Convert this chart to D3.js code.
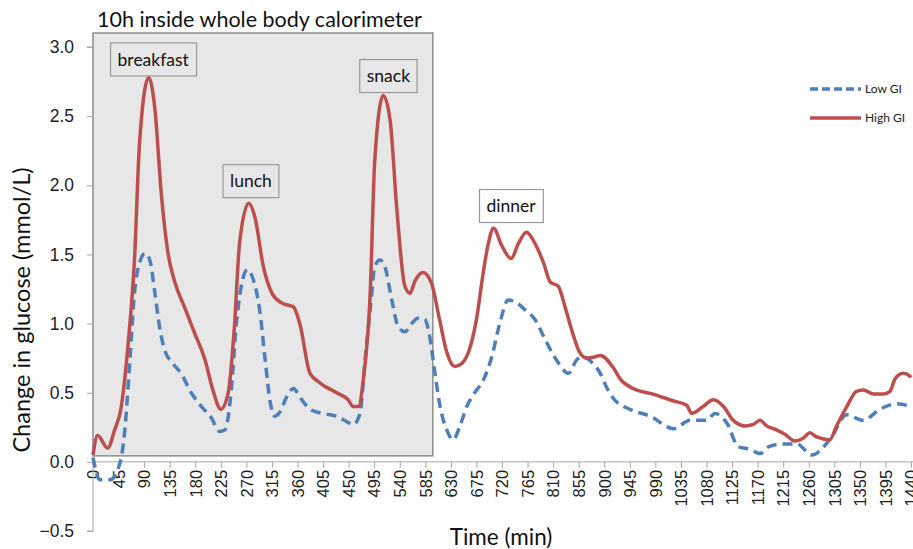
<!DOCTYPE html>
<html>
<head>
<meta charset="utf-8">
<script src="https://cdn.jsdelivr.net/npm/d3@7"></script>
<style>
  body { margin: 0; background: #fff; }
  svg { font-family: Lato, "Open Sans", sans-serif; }
  .axis path, .axis line { stroke: #a6a6a6; }
  .axis text { fill: #222; }
</style>
</head>
<body>
<div id="chart"></div>
<script>
// glucose change curves, [minute, mmol/L]
var highGI = [
  [0, 0.05], [8, 0.19], [26, 0.10], [38, 0.23], [49, 0.38], [62, 0.86], [73, 1.46],
  [82, 2.31], [98, 2.78], [109, 2.55], [120, 1.95], [132, 1.51], [144, 1.30],
  [161, 1.12], [179, 0.93], [197, 0.74], [211, 0.52], [225, 0.38], [238, 0.50],
  [249, 0.98], [258, 1.58], [274, 1.87], [285, 1.77], [300, 1.41], [315, 1.22],
  [332, 1.15], [353, 1.12], [364, 1.00], [382, 0.64], [400, 0.57], [429, 0.50],
  [449, 0.45], [458, 0.40], [467, 0.40], [476, 0.60], [488, 1.22], [496, 2.18],
  [511, 2.65], [523, 2.47], [535, 1.82], [549, 1.27], [558, 1.22], [567, 1.31],
  [581, 1.37], [596, 1.29], [610, 1.03], [623, 0.79], [637, 0.69], [649, 0.71],
  [664, 0.83], [675, 1.03], [687, 1.37], [696, 1.58], [705, 1.69], [720, 1.56],
  [736, 1.47], [749, 1.58], [763, 1.66], [778, 1.58], [793, 1.44], [805, 1.30],
  [819, 1.27], [831, 1.12], [843, 0.95], [857, 0.79], [869, 0.75], [884, 0.76],
  [893, 0.77], [916, 0.68], [928, 0.60], [951, 0.53], [986, 0.49], [1022, 0.44],
  [1045, 0.41], [1054, 0.35], [1074, 0.40], [1092, 0.45], [1110, 0.40],
  [1127, 0.30], [1148, 0.26], [1162, 0.27], [1174, 0.30], [1186, 0.26],
  [1204, 0.23], [1218, 0.20], [1236, 0.15], [1250, 0.17], [1262, 0.21],
  [1274, 0.18], [1297, 0.16], [1309, 0.26], [1327, 0.40], [1344, 0.51],
  [1356, 0.52], [1374, 0.49], [1391, 0.49], [1403, 0.51], [1412, 0.60],
  [1426, 0.64], [1438, 0.62], [1440, 0.61]
];
var lowGI = [
  [0, 0.03], [12, -0.13], [30, -0.13], [48, 0.00], [56, 0.23], [65, 0.74],
  [73, 1.22], [82, 1.44], [92, 1.51], [100, 1.46], [109, 1.22], [117, 0.98],
  [126, 0.81], [141, 0.71], [155, 0.64], [173, 0.50], [191, 0.40], [208, 0.32],
  [223, 0.22], [232, 0.23], [243, 0.50], [252, 0.98], [261, 1.27], [272, 1.39],
  [282, 1.32], [294, 1.08], [303, 0.74], [312, 0.43], [320, 0.33], [329, 0.36],
  [341, 0.47], [353, 0.53], [364, 0.47], [382, 0.38], [405, 0.35], [429, 0.33],
  [447, 0.29], [458, 0.27], [470, 0.35], [479, 0.74], [488, 1.10], [496, 1.41],
  [505, 1.46], [514, 1.41], [526, 1.17], [537, 0.98], [549, 0.94], [561, 1.00],
  [573, 1.04], [584, 1.03], [593, 0.90], [602, 0.64], [611, 0.40], [623, 0.23],
  [634, 0.16], [646, 0.26], [658, 0.40], [672, 0.50], [687, 0.59], [702, 0.76],
  [716, 1.00], [731, 1.17], [746, 1.15], [763, 1.09], [778, 1.03], [793, 0.91],
  [808, 0.79], [822, 0.70], [837, 0.64], [852, 0.74], [863, 0.76], [878, 0.72],
  [893, 0.64], [904, 0.54], [916, 0.46], [945, 0.38], [981, 0.33], [1022, 0.24],
  [1051, 0.30], [1080, 0.30], [1095, 0.35], [1116, 0.28], [1136, 0.11],
  [1157, 0.09], [1174, 0.06], [1190, 0.11], [1215, 0.13], [1239, 0.13],
  [1265, 0.05], [1297, 0.16], [1327, 0.34], [1356, 0.30], [1385, 0.38],
  [1415, 0.42], [1438, 0.40], [1440, 0.39]
];
var meals = ["breakfast", "lunch", "snack", "dinner"];
var mealTimes = [106, 278, 520, 736];
var mealLevels = [2.91, 2.03, 2.79, 1.85];
var xTicks = d3.range(0, 1441, 45);
var yTicks = [-0.5, 0, 0.5, 1.0, 1.5, 2.0, 2.5, 3.0];
var calorimeterSpan = [0, 600];
var seriesNames = ["Low GI", "High GI"];
var seriesColors = ["#4f7fb8", "#bc4f4c"];

var W = 913, H = 549;
var svg = d3.select("#chart").append("svg")
  .attr("width", W).attr("height", H);

var x = d3.scaleLinear().domain([0, 1440]).range([93, 911]);
var y = d3.scaleLinear().domain([-0.5, 3.0]).range([531, 47]);

// calorimeter box (10 h)
svg.append("rect")
  .attr("x", x(calorimeterSpan[0]))
  .attr("y", 33)
  .attr("width", x(calorimeterSpan[1]) - x(calorimeterSpan[0]) - 1)
  .attr("height", y(0) - 6 - 33)
  .attr("fill", "#e7e7e7")
  .attr("stroke", "#8c8c8c")
  .attr("stroke-width", 1.5);

svg.append("text")
  .attr("x", 97).attr("y", 27)
  .attr("font-size", 21.5)
  .attr("fill", "#111")
  .text("10h inside whole body calorimeter");

// axes
var xAxis = d3.axisBottom(x).tickValues(xTicks).tickSize(6).tickFormat(d3.format("d"));
var gx = svg.append("g").attr("class", "x axis")
  .attr("transform", `translate(0,${y(0)})`)
  .call(xAxis);
gx.select(".domain").attr("d", `M${x(0)},0H${W}`);
gx.selectAll("text")
  .attr("font-size", 16.5)
  .attr("transform", "rotate(-90)")
  .attr("text-anchor", "end")
  .attr("x", -8).attr("y", 0).attr("dy", "0.35em");

var yAxis = d3.axisLeft(y).tickValues(yTicks).tickSize(6).tickFormat(d3.format(".1f"));
var gy = svg.append("g").attr("class", "y axis")
  .attr("transform", `translate(${x(0)},0)`)
  .call(yAxis);
gy.select(".domain").attr("d", `M-6,${y(3.0)}H0V${y(-0.5)}H-6`);
gy.selectAll("text").attr("font-size", 17.5).attr("x", -19);

svg.append("text")
  .attr("transform", "translate(30,310) rotate(-90)")
  .attr("text-anchor", "middle")
  .attr("font-size", 23.5)
  .attr("fill", "#111")
  .text("Change in glucose (mmol/L)");

svg.append("text")
  .attr("x", 501).attr("y", 545)
  .attr("text-anchor", "middle")
  .attr("font-size", 22.5)
  .attr("fill", "#111")
  .text("Time (min)");

// lines
var line = d3.line()
  .x(d => x(d[0]))
  .y(d => y(d[1]))
  .curve(d3.curveMonotoneX);

svg.append("path")
  .datum(lowGI)
  .attr("fill", "none")
  .attr("stroke", seriesColors[0])
  .attr("stroke-width", 3.5)
  .attr("stroke-dasharray", "10,6")
  .attr("d", line);

svg.append("path")
  .datum(highGI)
  .attr("fill", "none")
  .attr("stroke", seriesColors[1])
  .attr("stroke-width", 3.5)
  .attr("d", line);

// meal labels
meals.forEach((m, i) => {
  var g = svg.append("g")
    .attr("transform", `translate(${x(mealTimes[i])},${y(mealLevels[i])})`);
  var t = g.append("text")
    .attr("text-anchor", "middle")
    .attr("dy", "0.35em")
    .attr("font-size", 17.5)
    .attr("fill", "#111")
    .text(m);
  var bb = t.node().getBBox();
  g.insert("rect", "text")
    .attr("x", bb.x - 7).attr("y", -16.5)
    .attr("width", bb.width + 14).attr("height", 33)
    .attr("fill", "none")
    .attr("stroke", "#999")
    .attr("stroke-width", 1.2);
});

// legend
var legend = svg.append("g").attr("transform", "translate(810,89)");
seriesNames.forEach((s, i) => {
  var row = legend.append("g").attr("transform", `translate(0,${i * 29})`);
  row.append("line")
    .attr("x1", 0).attr("x2", 51)
    .attr("stroke", seriesColors[i])
    .attr("stroke-width", 3.5)
    .attr("stroke-dasharray", i === 0 ? "8,4" : null);
  row.append("text")
    .attr("x", 55).attr("dy", "0.35em")
    .attr("font-size", 12)
    .attr("fill", "#222")
    .text(s);
});
</script>
</body>
</html>
